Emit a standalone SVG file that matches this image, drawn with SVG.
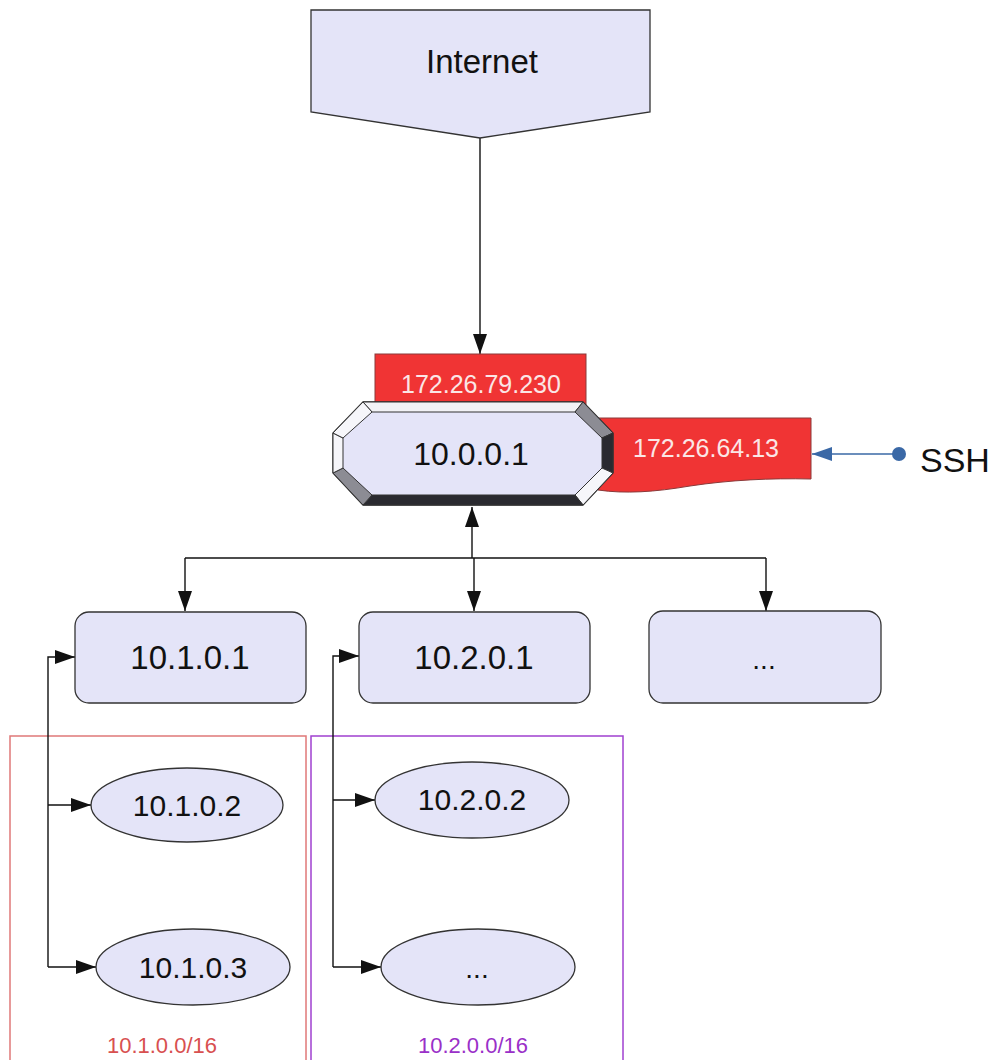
<svg xmlns="http://www.w3.org/2000/svg" width="993" height="1060" viewBox="0 0 993 1060">
<defs>
<style>
.node{fill:#e4e4f8;stroke:#333;stroke-width:1.3}
.lbl{font-family:"Liberation Sans",Arial,sans-serif;fill:#111;text-anchor:middle}
.edge{fill:none;stroke:#111;stroke-width:1.4}
.red{fill:#f03434;stroke:#8a3a3a;stroke-width:1}
.wt{font-family:"Liberation Sans",Arial,sans-serif;fill:#fbe6e6;text-anchor:middle;font-size:25px}
</style>
<marker id="ah" viewBox="0 0 20 14" refX="20" refY="7" markerWidth="20" markerHeight="14" orient="auto" markerUnits="userSpaceOnUse">
<path d="M0,0 L20,7 L0,14 Z" fill="#111"/>
</marker>
<marker id="ahb" viewBox="0 0 20 14" refX="20" refY="7" markerWidth="20" markerHeight="14" orient="auto" markerUnits="userSpaceOnUse">
<path d="M0,0 L20,7 L0,14 Z" fill="#3a68a6"/>
</marker>
</defs>
<rect width="993" height="1060" fill="#fff"/>

<g id="clusters">
<rect x="10" y="736" width="296" height="340" fill="none" stroke="#e07878" stroke-width="1.5"/>
<text x="162" y="1053" font-family="Liberation Sans,Arial,sans-serif" font-size="22" fill="#d85050" text-anchor="middle">10.1.0.0/16</text>
<rect x="311" y="736" width="312" height="340" fill="none" stroke="#a040d0" stroke-width="1.5"/>
<text x="473" y="1053" font-family="Liberation Sans,Arial,sans-serif" font-size="22" fill="#9a30c8" text-anchor="middle">10.2.0.0/16</text>
</g>

<g id="connectors">
<path class="edge" d="M480,138 V354" marker-end="url(#ah)"/>
<path class="edge" d="M472,558 V507" marker-end="url(#ah)" stroke-width="2"/>
<path class="edge" d="M185,558 H766"/>
<path class="edge" d="M185,558 V611" marker-end="url(#ah)"/>
<path class="edge" d="M474,558 V611" marker-end="url(#ah)"/>
<path class="edge" d="M766,558 V611" marker-end="url(#ah)"/>
<path class="edge" d="M48,967 V657 H75" marker-end="url(#ah)"/>
<path class="edge" d="M48,805 H91" marker-end="url(#ah)"/>
<path class="edge" d="M48,967 H96" marker-end="url(#ah)"/>
<path class="edge" d="M333,967 V656 H359" marker-end="url(#ah)"/>
<path class="edge" d="M333,800 H375" marker-end="url(#ah)"/>
<path class="edge" d="M333,967 H381" marker-end="url(#ah)"/>
<path d="M898,454 H812" fill="none" stroke="#3a68a6" stroke-width="1.4" marker-end="url(#ahb)"/>
<circle cx="899" cy="454" r="7" fill="#3a68a6"/>
</g>

<g id="internet">
<polygon class="node" points="311,10 650,10 650,112 480,138 311,112"/>
<text class="lbl" x="482" y="73" font-size="33">Internet</text>
</g>

<g id="ip-public">
<rect class="red" x="375" y="354" width="211" height="52"/>
<text class="wt" x="481" y="393">172.26.79.230</text>
</g>

<g id="ip-ssh">
<path class="red" d="M598,418 H811 V479 C770,478 730,480 690,486 C655,492 625,494 598,490 Z"/>
<text class="wt" x="706" y="457">172.26.64.13</text>
</g>

<g id="gateway">
<polygon points="363,402 583,402 613,433 613,473 583,505 363,505 333,473 333,433" fill="#e4e4f8" stroke="#333" stroke-width="1.3"/>
<polygon points="363,402 583,402 575,412 372,412" fill="#f2f2f6" stroke="#333" stroke-width="1"/>
<polygon points="583,402 613,433 602,438 575,412" fill="#8c8c94" stroke="#333" stroke-width="1"/>
<polygon points="613,433 613,473 602,468 602,438" fill="#2a2a30" stroke="#333" stroke-width="1"/>
<polygon points="613,473 583,505 575,495 602,468" fill="#f6f6fa" stroke="#333" stroke-width="1"/>
<polygon points="583,505 363,505 372,495 575,495" fill="#2a2a30" stroke="#333" stroke-width="1"/>
<polygon points="363,505 333,473 343,468 372,495" fill="#8c8c94" stroke="#333" stroke-width="1"/>
<polygon points="333,473 333,433 343,438 343,468" fill="#f6f6fa" stroke="#333" stroke-width="1"/>
<polygon points="333,433 363,402 372,412 343,438" fill="#f6f6fa" stroke="#333" stroke-width="1"/>
<text class="lbl" x="471" y="465" font-size="32">10.0.0.1</text>
</g>

<g id="ssh">
<text x="920" y="472" font-family="Liberation Sans,Arial,sans-serif" font-size="34" fill="#111">SSH</text>
</g>

<g id="n1">
<rect class="node" x="75" y="612" width="231" height="91" rx="14"/>
<text class="lbl" x="190" y="669" font-size="33">10.1.0.1</text>
</g>
<g id="n2">
<rect class="node" x="359" y="612" width="231" height="91" rx="14"/>
<text class="lbl" x="474" y="669" font-size="33">10.2.0.1</text>
</g>
<g id="n3">
<rect class="node" x="649" y="611" width="232" height="92" rx="14"/>
<text class="lbl" x="764" y="669" font-size="28">...</text>
</g>

<g id="n12">
<ellipse class="node" cx="187" cy="805" rx="96" ry="37"/>
<text class="lbl" x="187" y="816" font-size="30">10.1.0.2</text>
</g>
<g id="n13">
<ellipse class="node" cx="193" cy="967" rx="97" ry="38"/>
<text class="lbl" x="193" y="978" font-size="30">10.1.0.3</text>
</g>
<g id="n22">
<ellipse class="node" cx="472" cy="800" rx="97" ry="38"/>
<text class="lbl" x="472" y="810" font-size="30">10.2.0.2</text>
</g>
<g id="n23">
<ellipse class="node" cx="478" cy="967" rx="97" ry="38"/>
<text class="lbl" x="477" y="978" font-size="28">...</text>
</g>
</svg>
